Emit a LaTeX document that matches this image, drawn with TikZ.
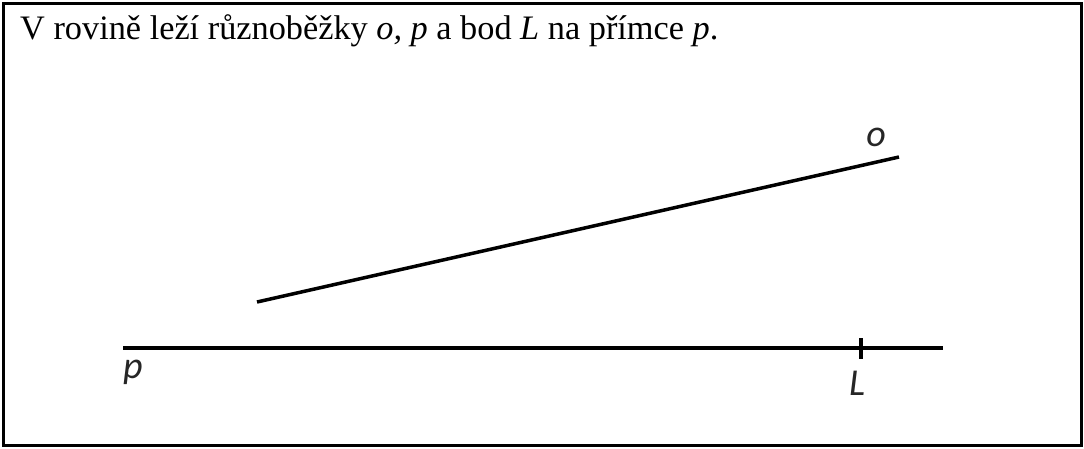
\documentclass[tikz,border=0pt]{standalone}
\usepackage{fontspec}
\setmainfont{Liberation Serif}
\newfontfamily\labelfont{Carlito}
\usetikzlibrary{positioning}

\begin{document}
\begin{tikzpicture}[
                x=1pt, y=-1pt,
                frame/.style={draw=black, line width=3pt},
                lineseg/.style={draw=black, line width=3.5pt},
                ticksign/.style={draw=black, line width=3.5pt},
                heading/.style={anchor=base west, inner sep=0pt, font=\fontsize{34.3}{41}\selectfont},
                linelabel/.style={inner sep=0pt, font=\labelfont\itshape\fontsize{38}{44}\selectfont, text=black!85}
                ]
                % frame and bounding box
                \useasboundingbox (0,0) rectangle (1084,448);
                \draw[frame] (3.5,3.5) rectangle (1081,445);

                \node[heading] (title) at (20,39) {V rovině leží různoběžky \textit{o, p} a bod \textit{L} na přímce \textit{p}.};

                % line o
                \coordinate (oA) at (257,302);
                \coordinate (oB) at (899,157);
                \draw[lineseg] (oA) -- (oB);
                \node[linelabel] (olabel) at (876,137) {o};

                % line p with point L
                \coordinate (pA) at (123,348);
                \coordinate (pB) at (943,348);
                \draw[lineseg] (pA) -- (pB);
                \coordinate (Ltop) at (861,338);
                \coordinate (Lbot) at (861,359);
                \draw[ticksign] (Ltop) -- (Lbot);
                \node[linelabel] (plabel) at (133,372) {p};
                \node[linelabel] (Llabel) at (857,383) {L};
            \end{tikzpicture}
\end{document}
